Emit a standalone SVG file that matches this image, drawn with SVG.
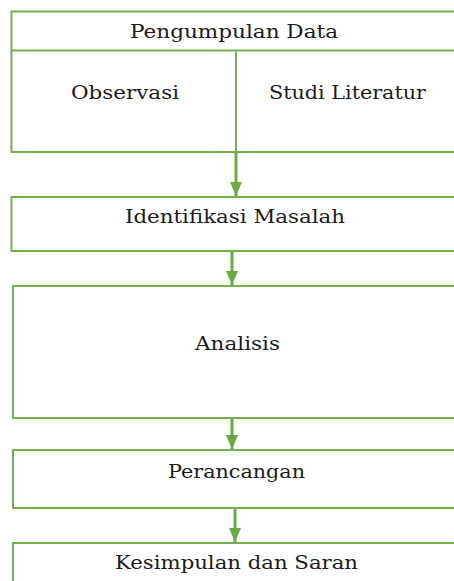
<svg xmlns="http://www.w3.org/2000/svg" width="454" height="581" viewBox="0 0 454 581">
<style>
.box{fill:#fff;stroke:#72B04B;stroke-width:2}
.div{stroke:#72B04B;stroke-width:2;fill:none}
.conn{stroke:#6AAB40;stroke-width:3;fill:none}
text{font-family:"DejaVu Serif","Liberation Serif",serif;font-size:18.5px;fill:#1a1a1a;text-anchor:middle}
</style>
<defs>
<marker id="ah" markerUnits="userSpaceOnUse" markerWidth="16" markerHeight="12" refX="14" refY="6" orient="auto">
<path d="M0,0 L14,6 L0,12 Z" fill="#6AAB40"/>
</marker>
</defs>
<rect width="454" height="581" fill="#fff"/>
<g id="pengumpulan">
<rect class="box" x="11.5" y="11.5" width="460" height="140.5"/>
<line class="div" x1="11.5" y1="50.5" x2="460" y2="50.5"/>
<line class="div" x1="236" y1="50.5" x2="236" y2="152"/>
<text x="234" y="38" textLength="208" lengthAdjust="spacingAndGlyphs">Pengumpulan Data</text>
<text x="125" y="99" textLength="108" lengthAdjust="spacingAndGlyphs">Observasi</text>
<text x="347.5" y="99" textLength="157" lengthAdjust="spacingAndGlyphs">Studi Literatur</text>
</g>
<g id="identifikasi">
<rect class="box" x="11.5" y="197" width="460" height="54"/>
<text x="235" y="223" textLength="220" lengthAdjust="spacingAndGlyphs">Identifikasi Masalah</text>
</g>
<g id="analisis">
<rect class="box" x="13" y="286" width="460" height="132"/>
<text x="237.5" y="350" textLength="85" lengthAdjust="spacingAndGlyphs">Analisis</text>
</g>
<g id="perancangan">
<rect class="box" x="13" y="450" width="460" height="58"/>
<text x="236.5" y="478" textLength="137" lengthAdjust="spacingAndGlyphs">Perancangan</text>
</g>
<g id="kesimpulan">
<rect class="box" x="13" y="543" width="460" height="60"/>
<text x="236.5" y="569" textLength="243" lengthAdjust="spacingAndGlyphs">Kesimpulan dan Saran</text>
</g>
<g id="connectors">
<line class="conn" x1="236" y1="152" x2="236" y2="196" marker-end="url(#ah)"/>
<line class="conn" x1="232" y1="252" x2="232" y2="285" marker-end="url(#ah)"/>
<line class="conn" x1="232" y1="419" x2="232" y2="449" marker-end="url(#ah)"/>
<line class="conn" x1="235" y1="509" x2="235" y2="542" marker-end="url(#ah)"/>
</g>
</svg>
